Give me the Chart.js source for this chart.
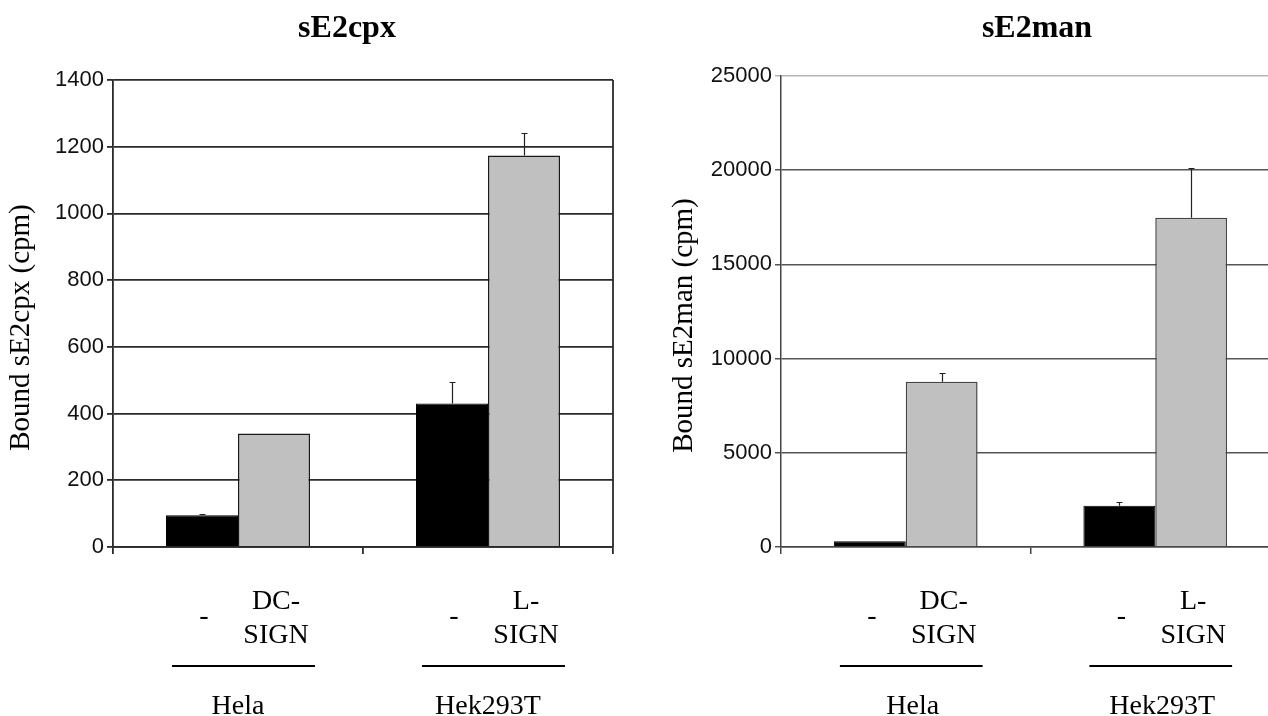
<!DOCTYPE html>
<html>
<head>
<meta charset="utf-8">
<script src="https://cdn.jsdelivr.net/npm/chart.js@4.4.1/dist/chart.umd.min.js"></script>
<style>
html, body { margin: 0; padding: 0; background: #fff; }
body { width: 1268px; height: 716px; overflow: hidden; position: relative; }
canvas { position: absolute; top: 0; }
#cpx { left: 0; }
#man { left: 640px; }
</style>
</head>
<body>
<canvas id="cpx" width="640" height="716"></canvas>
<canvas id="man" width="640" height="716"></canvas>
<script>
const cellLines = ['Hela', 'Hek293T']
const lectins = [['DC-', 'SIGN'], ['L-', 'SIGN']]
const controlLabel = '-'

const cpxControl = [95, 430]
const cpxControlErr = [3, 65]
const cpxLectin = [340, 1174]
const cpxLectinErr = [0, 66]
const cpxTicks = [0, 200, 400, 600, 800, 1000, 1200, 1400]

const manControl = [300, 2190]
const manControlErr = [0, 200]
const manLectin = [8770, 17480]
const manLectinErr = [460, 2620]
const manTicks = [0, 5000, 10000, 15000, 20000, 25000]

const serif = '"Liberation Serif", "Times New Roman", serif'
const sans = '"Liberation Sans", Arial, sans-serif'

// error bars (plus side only), titles, labels under the bars
const panelPlugin = {
    id: 'panel',
    afterDatasetsDraw(chart, args, opts) {
        let ctx = chart.ctx
        let yScale = chart.scales.y
        ctx.save()
        ctx.strokeStyle = opts.errColor
        ctx.lineWidth = 1.2
        chart.data.datasets.forEach((ds, i) => {
            let meta = chart.getDatasetMeta(i)
            meta.data.forEach((bar, j) => {
                let err = ds.errors[j]
                if (!err) return
                let x = Math.round(bar.x) + 0.5
                let top = Math.round(yScale.getPixelForValue(ds.data[j] + err)) + 0.5
                ctx.beginPath()
                ctx.moveTo(x, bar.y)
                ctx.lineTo(x, top)
                ctx.moveTo(x - 3, top)
                ctx.lineTo(x + 3, top)
                ctx.stroke()
            })
        })
        ctx.restore()
    },
    afterDraw(chart, args, opts) {
        let ctx = chart.ctx
        let area = chart.chartArea
        let xScale = chart.scales.x
        let ctrl = chart.getDatasetMeta(0).data
        let lect = chart.getDatasetMeta(1).data
        ctx.save()
        if (opts.frame) {
            ctx.strokeStyle = opts.frame
            ctx.lineWidth = 1.8
            ctx.beginPath()
            ctx.moveTo(area.right, area.top)
            ctx.lineTo(area.right, area.bottom)
            ctx.stroke()
        }
        ctx.fillStyle = '#000'
        ctx.textAlign = 'center'
        ctx.textBaseline = 'alphabetic'
        ctx.font = `bold 32px ${serif}`
        ctx.fillText(opts.title, (area.left + area.right) / 2 + opts.titleShift, 37)

        // y axis title, a bit below the middle of the plot like the original
        ctx.save()
        ctx.font = `29px ${serif}`
        ctx.textBaseline = 'middle'
        ctx.translate(opts.yTitleX, (area.top + area.bottom) / 2 + 14)
        ctx.rotate(-Math.PI / 2)
        ctx.fillText(opts.yTitle, 0, 0)
        ctx.restore()

        ctx.font = `28px ${serif}`
        chart.data.labels.forEach((name, j) => {
            let a = ctrl[j]
            let b = lect[j]
            ctx.fillText(controlLabel, a.x + 2, area.bottom + 77)
            ctx.fillText(lectins[j][0], b.x + 2, area.bottom + 62)
            ctx.fillText(lectins[j][1], b.x + 2, area.bottom + 96)
            let x0 = a.x - a.width / 2 + 6
            let x1 = b.x + b.width / 2 + 5
            ctx.fillRect(x0, area.bottom + 118, x1 - x0, 2)
            ctx.fillText(name, xScale.getPixelForValue(j) + opts.groupShift, area.bottom + 167)
        })
        ctx.restore()
    }
}

function makeChart (id, cfg) {
    let top = cfg.ticks[cfg.ticks.length - 1]
    return new Chart(id, {
        type: 'bar',
        data: {
            labels: cellLines,
            datasets: [
                {data: cfg.control, errors: cfg.controlErr, backgroundColor: '#000', borderColor: '#000', borderWidth: 1},
                {data: cfg.lectin, errors: cfg.lectinErr, backgroundColor: '#c0c0c0', borderColor: cfg.edge, borderWidth: 1.5}
            ]
        },
        options: {
            responsive: false,
            animation: false,
            devicePixelRatio: 1,
            layout: {padding: {top: cfg.padTop, right: cfg.padRight, bottom: 169, left: 0}},
            datasets: {bar: {categoryPercentage: 0.576, barPercentage: 1}},
            plugins: {
                legend: {display: false},
                tooltip: {enabled: false},
                panel: {
                    title: cfg.title, titleShift: cfg.titleShift, groupShift: cfg.groupShift,
                    yTitle: cfg.yTitle, yTitleX: cfg.yTitleX,
                    frame: cfg.frame, errColor: '#222'
                }
            },
            scales: {
                x: {
                    ticks: {display: false},
                    grid: {drawOnChartArea: false, tickLength: 7, color: cfg.axis, lineWidth: cfg.lineW},
                    border: {color: cfg.axis, width: cfg.lineW},
                    afterFit: s => { s.height = 0 }
                },
                y: {
                    min: 0,
                    max: top,
                    afterBuildTicks: s => { s.ticks = cfg.ticks.map(v => ({value: v})) },
                    ticks: {callback: v => String(v), font: {family: sans, size: 22}, color: '#111', padding: 3},
                    grid: {
                        color: c => (c.tick && c.tick.value === top) ? cfg.topGrid : cfg.grid,
                        lineWidth: cfg.lineW,
                        tickLength: 6
                    },
                    border: {color: cfg.axis, width: cfg.lineW},
                    afterFit: s => { s.width = cfg.axisWidth }
                }
            }
        },
        plugins: [panelPlugin]
    })
}

makeChart('cpx', {
    control: cpxControl, controlErr: cpxControlErr,
    lectin: cpxLectin, lectinErr: cpxLectinErr,
    ticks: cpxTicks,
    title: 'sE2cpx', yTitle: 'Bound sE2cpx (cpm)', yTitleX: 21,
    padTop: 80, padRight: 27, axisWidth: 113,
    titleShift: -16, groupShift: 0, lineW: 1.8,
    edge: '#1a1a1a', axis: '#2a2a2a', grid: '#2a2a2a', topGrid: '#2a2a2a', frame: '#2a2a2a'
})

makeChart('man', {
    control: manControl, controlErr: manControlErr,
    lectin: manLectin, lectinErr: manLectinErr,
    ticks: manTicks,
    title: 'sE2man', yTitle: 'Bound sE2man (cpm)', yTitleX: 44,
    padTop: 76, padRight: 0, axisWidth: 141,
    titleShift: 6.5, groupShift: 7, lineW: 1.5,
    edge: '#444', axis: '#444', grid: '#555', topGrid: '#b5b5b5', frame: null
})
</script>
</body>
</html>
